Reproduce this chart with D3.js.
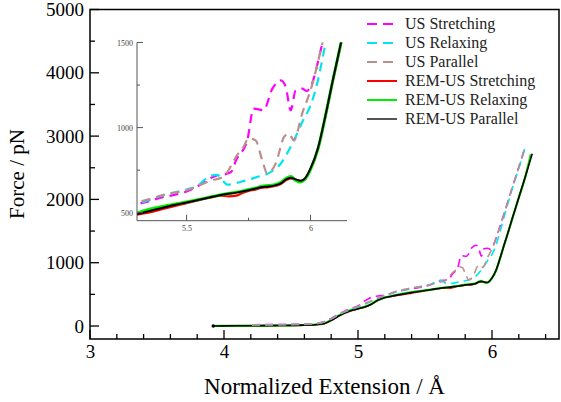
<!DOCTYPE html>
<html><head><meta charset="utf-8">
<script src="https://cdn.jsdelivr.net/npm/d3@7"></script>
<style>body{margin:0;background:#fff}svg{display:block}</style>
</head><body><svg id="c" width="561" height="402"></svg>
<script>
// ---- data ----
const usStretching = [[4.21,20],[4.3,22],[4.4,24],[4.5,27],[4.6,30],[4.7,45],[4.75,72],[4.8,120],[4.85,180],[4.9,235],[4.95,280],[5.0,318],[5.05,395],[5.1,455],[5.15,475],[5.2,490],[5.25,518],[5.3,548],[5.35,568],[5.4,590],[5.45,605],[5.5,625],[5.55,660],[5.58,690],[5.62,718],[5.66,728],[5.68,740],[5.70,810],[5.745,926],[5.77,1112],[5.81,1102],[5.846,1229],[5.88,1277],[5.90,1238],[5.92,1102],[5.94,1219],[5.966,1229],[5.985,1215],[6.0,1240],[6.047,1492],[6.1,1840],[6.15,2180],[6.2,2510],[6.246,2816]];
const usRelaxing = [[4.21,15],[4.3,17],[4.4,20],[4.5,22],[4.6,26],[4.7,40],[4.75,65],[4.8,110],[4.85,170],[4.9,222],[4.95,265],[5.0,300],[5.05,345],[5.1,390],[5.15,440],[5.2,478],[5.25,515],[5.3,552],[5.35,575],[5.4,600],[5.45,618],[5.5,636],[5.55,664],[5.57,690],[5.6,718],[5.624,722],[5.645,690],[5.664,665],[5.72,682],[5.787,711],[5.83,731],[5.88,789],[5.92,887],[5.97,1043],[6.0,1130],[6.03,1280],[6.05,1420],[6.1,1800],[6.15,2160],[6.2,2490],[6.246,2816]];
const usParallel = [[4.21,18],[4.3,20],[4.4,22],[4.5,25],[4.6,28],[4.7,42],[4.75,68],[4.8,115],[4.85,175],[4.9,228],[4.95,272],[5.0,308],[5.05,355],[5.1,400],[5.15,448],[5.2,485],[5.25,520],[5.3,560],[5.35,580],[5.4,602],[5.45,618],[5.5,632],[5.55,660],[5.6,690],[5.64,705],[5.66,730],[5.677,769],[5.70,830],[5.73,887],[5.75,936],[5.778,926],[5.805,809],[5.825,731],[5.86,791],[5.893,945],[5.912,965],[5.933,926],[5.966,1082],[6.0,1219],[6.047,1492],[6.1,1840],[6.15,2180],[6.2,2510],[6.246,2816]];
const remStretching = [[3.92,0],[4.0,2],[4.2,4],[4.4,7],[4.6,13],[4.7,24],[4.75,38],[4.8,88],[4.85,148],[4.9,200],[4.95,240],[5.0,270],[5.05,298],[5.1,342],[5.15,405],[5.2,446],[5.25,468],[5.3,488],[5.35,502],[5.4,520],[5.45,538],[5.5,556],[5.55,574],[5.6,590],[5.64,600],[5.67,596],[5.7,600],[5.72,612],[5.75,628],[5.78,636],[5.8,646],[5.83,650],[5.86,658],[5.88,668],[5.9,690],[5.92,702],[5.94,694],[5.96,686],[5.975,696],[6.0,756],[6.03,875],[6.06,1065],[6.09,1275],[6.12,1475],[6.15,1685],[6.2,2025],[6.25,2365],[6.29,2700]];
const remRelaxing = [[3.92,0],[4.0,3],[4.2,6],[4.4,9],[4.6,16],[4.7,28],[4.75,45],[4.8,96],[4.85,160],[4.9,215],[4.95,255],[5.0,280],[5.05,305],[5.1,350],[5.15,412],[5.2,452],[5.25,474],[5.3,498],[5.35,520],[5.4,536],[5.45,550],[5.5,563],[5.55,578],[5.6,594],[5.65,609],[5.7,620],[5.75,636],[5.78,645],[5.8,654],[5.83,660],[5.86,666],[5.88,678],[5.9,700],[5.92,712],[5.94,690],[5.96,680],[5.975,692],[6.0,755],[6.03,875],[6.06,1068],[6.09,1278],[6.12,1478],[6.15,1688],[6.2,2028],[6.25,2368],[6.29,2715]];
const remParallel = [[3.92,0],[4.0,2],[4.2,5],[4.4,8],[4.6,14],[4.7,25],[4.75,40],[4.8,90],[4.85,150],[4.9,205],[4.95,245],[5.0,272],[5.05,300],[5.1,345],[5.15,410],[5.2,450],[5.25,470],[5.3,492],[5.35,510],[5.4,528],[5.45,545],[5.5,560],[5.55,576],[5.6,592],[5.65,607],[5.7,618],[5.75,632],[5.78,642],[5.8,650],[5.83,654],[5.86,662],[5.88,672],[5.9,695],[5.92,706],[5.94,696],[5.96,688],[5.975,698],[6.0,760],[6.03,880],[6.06,1070],[6.09,1280],[6.12,1480],[6.15,1690],[6.2,2030],[6.25,2370],[6.3,2720]];
const seriesNames = ["US Stretching","US Relaxing","US Parallel","REM-US Stretching","REM-US Relaxing","REM-US Parallel"];
const xTicks = [3,4,5,6];
const yTicks = [0,1000,2000,3000,4000,5000];
const insetXTicks = [5.5,6];
const insetYTicks = [500,1000,1500];

// ---- chart ----
const svg = d3.select("#c");
const font = "'Liberation Serif','Times New Roman',serif";
const x = d3.scaleLinear().domain([3,6.5]).range([90,559]);
const y = d3.scaleLinear().domain([-205,5000]).range([339,9.5]);

const series = [
  {name:seriesNames[3], data:remStretching, color:"#ff0000", dash:null, w:1.6, wi:2.2},
  {name:seriesNames[4], data:remRelaxing, color:"#00ee00", dash:null, w:2.2, wi:3},
  {name:seriesNames[5], data:remParallel, color:"#000000", dash:null, w:1.6, wi:2},
  {name:seriesNames[0], data:usStretching, color:"#ff00ff", dash:"8,5", w:1.6, wi:2.2},
  {name:seriesNames[1], data:usRelaxing, color:"#00e5ee", dash:"8,5", w:1.6, wi:2.2},
  {name:seriesNames[2], data:usParallel, color:"#bc8f8f", dash:"8,5", w:1.6, wi:2.2}
];

// main lines
const line = d3.line().x(d=>x(d[0])).y(d=>y(d[1])).curve(d3.curveMonotoneX);
series.forEach(s=>{
  svg.append("path").attr("d",line(s.data)).attr("fill","none")
    .attr("stroke",s.color).attr("stroke-width",s.w)
    .attr("stroke-dasharray",s.dash);
});
svg.append("circle").attr("cx",x(remParallel[0][0])).attr("cy",y(remParallel[0][1])).attr("r",1.8).attr("fill","#000");

// main axes (inward ticks)
const gx = svg.append("g").attr("transform","translate(0,339)");
d3.range(3,6.51,0.2).forEach(v=>{
  const major = Math.abs(v-Math.round(v))<1e-6;
  gx.append("line").attr("x1",x(v)).attr("x2",x(v)).attr("y1",0).attr("y2",major?-9:-5).attr("stroke","#000").attr("stroke-width",1.3);
});
const xAxis = d3.axisBottom(x).tickValues(xTicks).tickSize(0).tickPadding(6).tickFormat(d3.format("d"));
gx.call(xAxis);
gx.select(".domain").remove();
gx.selectAll("text").attr("font-family",font).attr("font-size",19).attr("fill","#000");

const gy = svg.append("g").attr("transform","translate(90,0)");
d3.range(0,5001,500).forEach(v=>{
  const major = v%1000===0;
  gy.append("line").attr("x1",0).attr("x2",major?9:5).attr("y1",y(v)).attr("y2",y(v)).attr("stroke","#000").attr("stroke-width",1.3);
});
const yAxis = d3.axisLeft(y).tickValues(yTicks).tickSize(0).tickPadding(6).tickFormat(d3.format("d"));
gy.call(yAxis);
gy.select(".domain").remove();
gy.selectAll("text").attr("font-family",font).attr("font-size",19).attr("fill","#000");

svg.append("rect").attr("x",90).attr("y",9.5).attr("width",469).attr("height",329.5)
  .attr("fill","none").attr("stroke","#000").attr("stroke-width",1.5);

// titles
svg.append("text").attr("x",324.5).attr("y",394).attr("text-anchor","middle")
  .attr("font-family",font).attr("font-size",23).text("Normalized Extension / Å");
svg.append("text").attr("transform","translate(24,174) rotate(-90)").attr("text-anchor","middle")
  .attr("font-family",font).attr("font-size",21).text("Force / pN");

// ---- inset ----
const ix = d3.scaleLinear().domain([5.3,6.147]).range([137,347]);
const iy = d3.scaleLinear().domain([453,1500]).range([220.7,42.5]);
svg.append("rect").attr("x",137).attr("y",42.5).attr("width",210).attr("height",178).attr("fill","#fff");
svg.append("clipPath").attr("id","ic").append("rect").attr("x",137).attr("y",42.5).attr("width",210).attr("height",178.2);
const gi = svg.append("g").attr("clip-path","url(#ic)");
const iline = d3.line().x(d=>ix(d[0])).y(d=>iy(d[1])).curve(d3.curveMonotoneX);
series.forEach(s=>{
  gi.append("path").attr("d",iline(s.data)).attr("fill","none")
    .attr("stroke",s.color).attr("stroke-width",s.wi)
    .attr("stroke-dasharray",s.dash?"9,6":null);
});
const axc = "#555";
svg.append("line").attr("x1",137).attr("x2",137).attr("y1",42.5).attr("y2",220.7).attr("stroke",axc).attr("stroke-width",1);
svg.append("line").attr("x1",137).attr("x2",347).attr("y1",220.7).attr("y2",220.7).attr("stroke",axc).attr("stroke-width",1);
[5.5,5.75,6].forEach(v=>{
  const major = insetXTicks.includes(v);
  svg.append("line").attr("x1",ix(v)).attr("x2",ix(v)).attr("y1",220.7).attr("y2",major?214.7:217.7).attr("stroke",axc);
});
[500,750,1000,1250,1500].forEach(v=>{
  const major = insetYTicks.includes(v);
  svg.append("line").attr("x1",137).attr("x2",major?143:140).attr("y1",iy(v)).attr("y2",iy(v)).attr("stroke",axc);
});
const gix = svg.append("g").attr("transform","translate(0,220.7)")
  .call(d3.axisBottom(ix).tickValues(insetXTicks).tickSize(0).tickPadding(5).tickFormat(d=>d===6?"6":d3.format(".1f")(d)));
gix.select(".domain").remove();
gix.selectAll("text").attr("font-family",font).attr("font-size",8).attr("fill","#444");
const giy = svg.append("g").attr("transform","translate(137,0)")
  .call(d3.axisLeft(iy).tickValues(insetYTicks).tickSize(0).tickPadding(4).tickFormat(d3.format("d")));
giy.select(".domain").remove();
giy.selectAll("text").attr("font-family",font).attr("font-size",8).attr("fill","#444");

// ---- legend ----
const legendOrder = [3,4,5,0,1,2];
const lg = svg.append("g");
legendOrder.forEach((si,i)=>{
  const s = series[si];
  const yy = 24 + i*19;
  lg.append("line").attr("x1",367).attr("x2",397).attr("y1",yy).attr("y2",yy)
    .attr("stroke",s.color==="#000000"?"#555":s.color).attr("stroke-width",2)
    .attr("stroke-dasharray",s.dash?"10,6":null);
  lg.append("text").attr("x",405).attr("y",yy+5).attr("font-family",font).attr("font-size",16)
    .attr("fill","#222").text(s.name);
});
</script></body></html>
